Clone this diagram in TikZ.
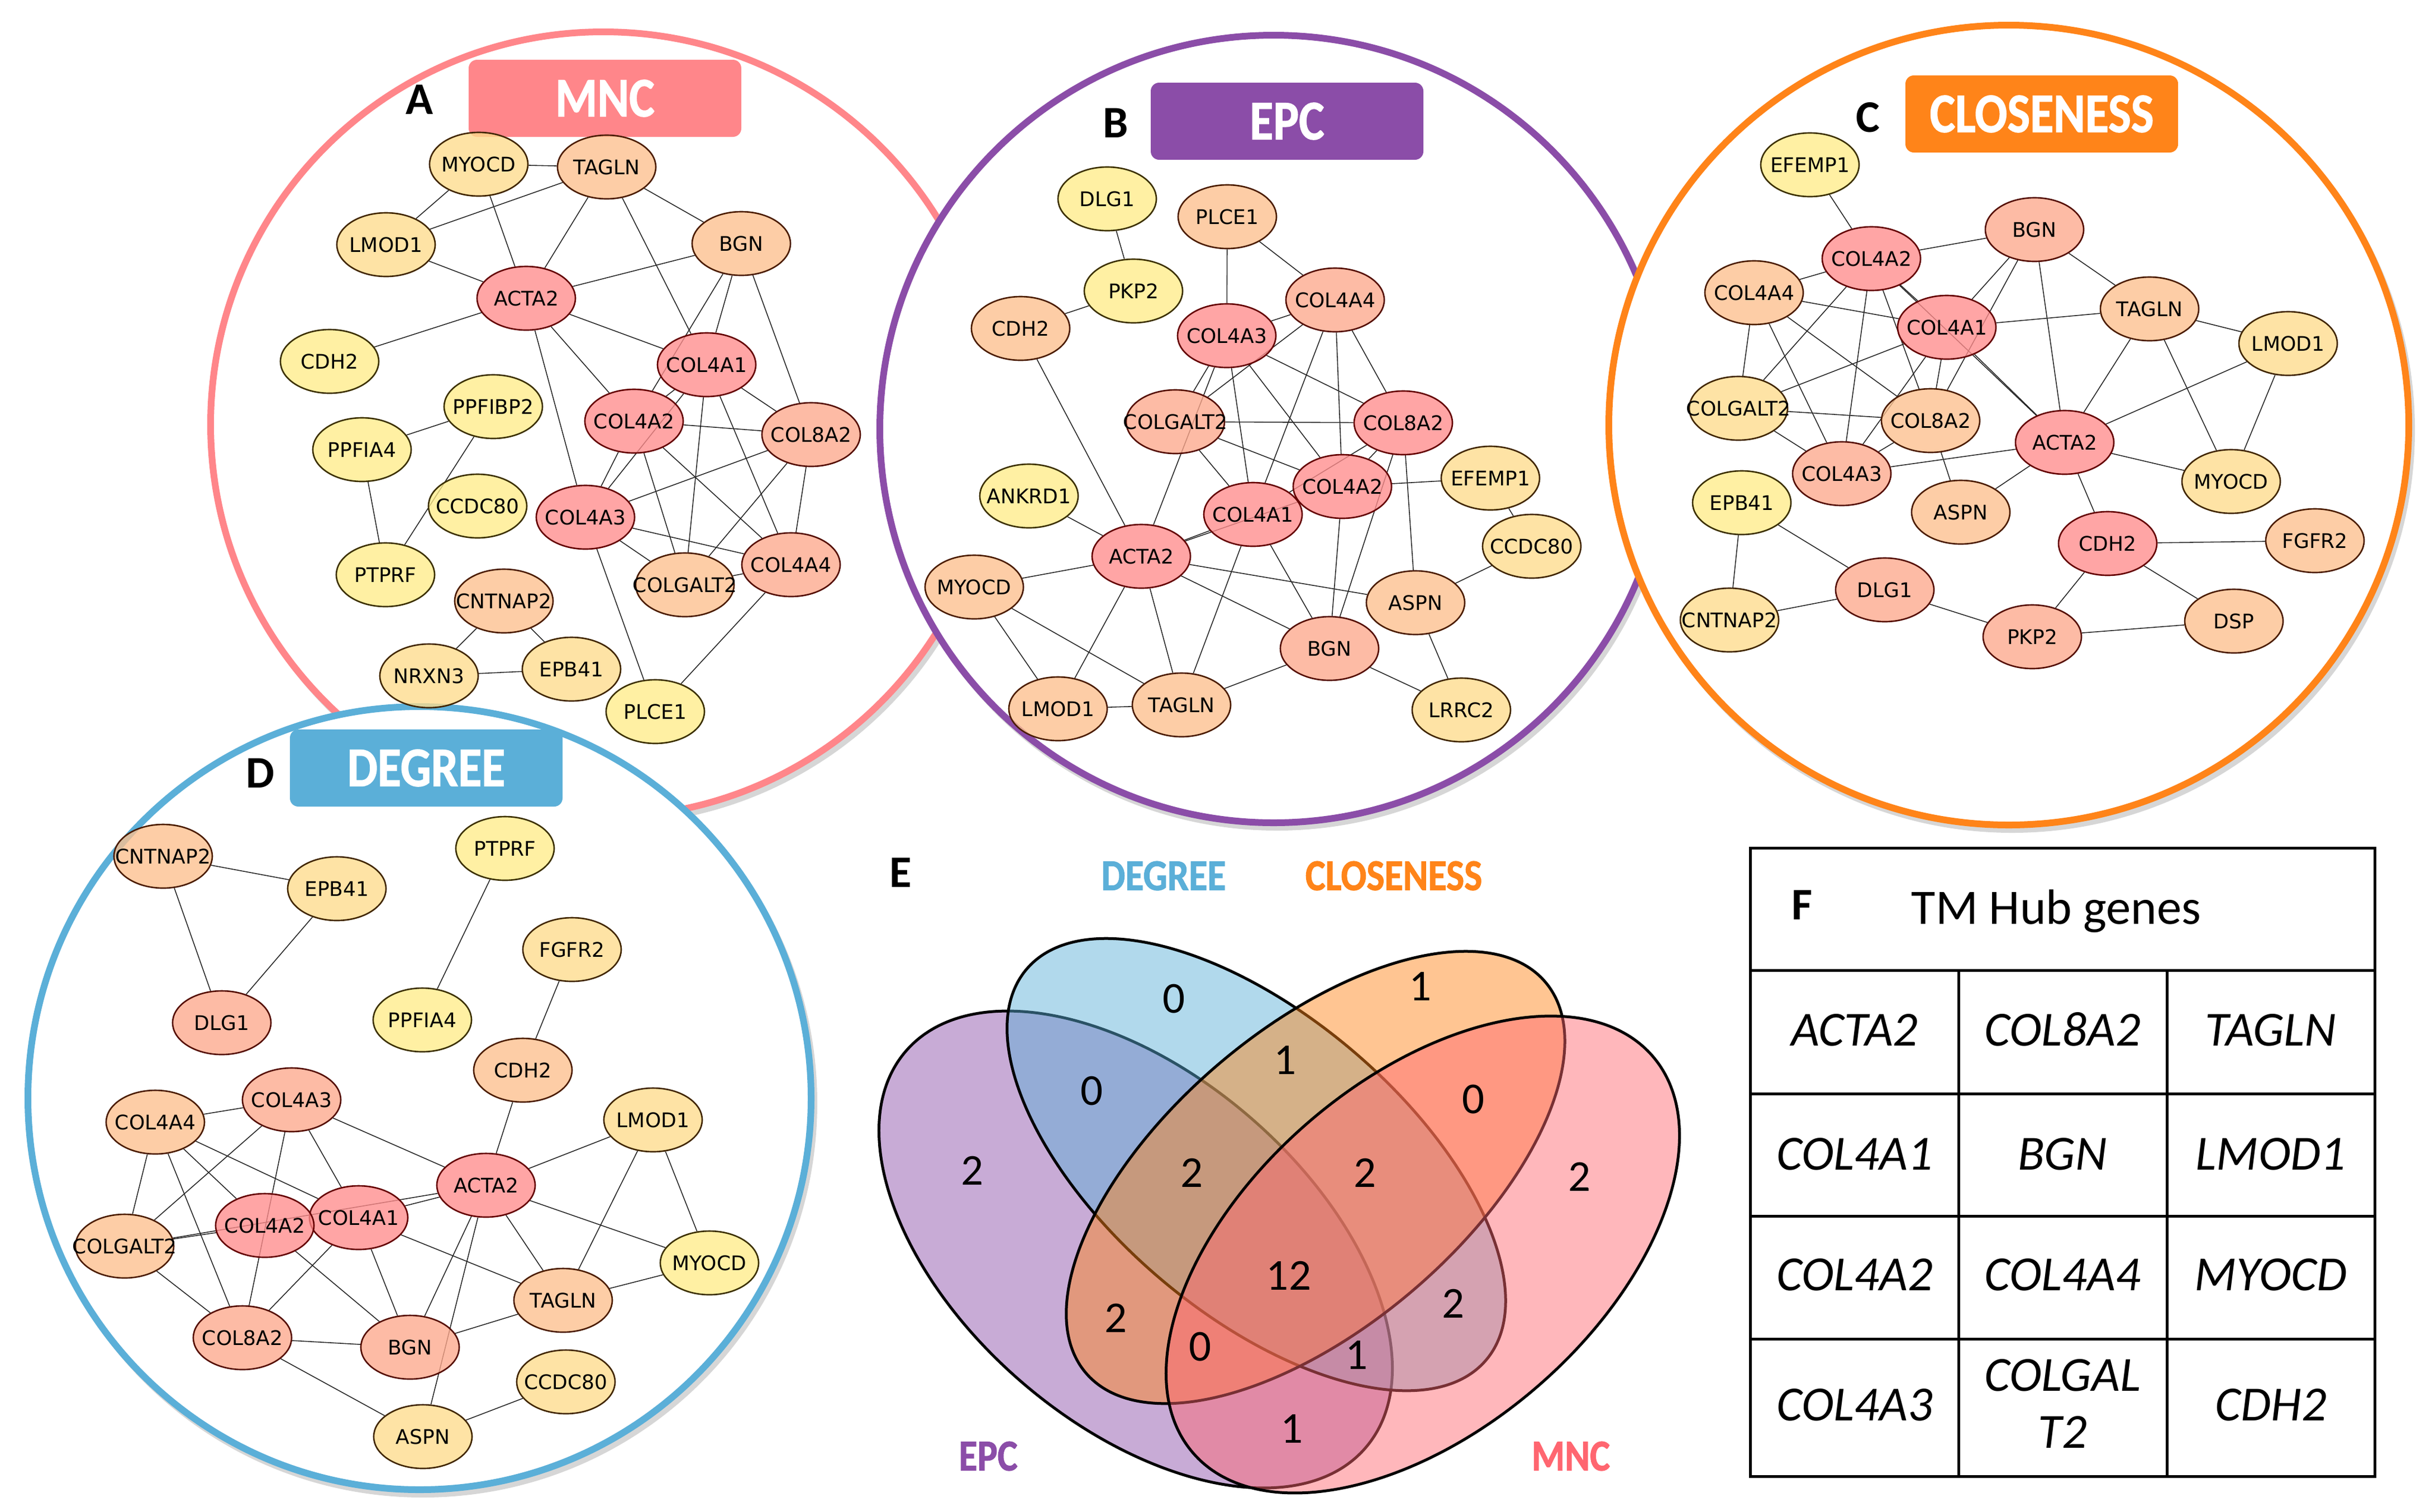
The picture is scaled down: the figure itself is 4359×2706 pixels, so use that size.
\documentclass[tikz,border=0pt]{standalone}
\usepackage{fontspec}
\setmainfont{Carlito}
\newfontfamily\genefont{DejaVu Sans}
\newfontfamily\hdrfont[FakeStretch=0.86,FakeBold=1.2]{Carlito}
\usetikzlibrary{shapes.geometric}
\pgfdeclarelayer{circles}
\pgfdeclarelayer{edges}
\pgfsetlayers{circles,edges,main}
\definecolor{cf1}{RGB}{255,236,138}\definecolor{cd1}{RGB}{60,48,0}
\definecolor{cf2}{RGB}{254,220,140}\definecolor{cd2}{RGB}{65,38,0}
\definecolor{cf3}{RGB}{253,192,142}\definecolor{cd3}{RGB}{75,28,0}
\definecolor{cf4}{RGB}{253,168,140}\definecolor{cd4}{RGB}{85,15,5}
\definecolor{cf5}{RGB}{255,140,140}\definecolor{cd5}{RGB}{100,0,0}
\definecolor{mncC}{RGB}{255,134,138}
\definecolor{mncT}{RGB}{255,102,112}
\definecolor{epcC}{RGB}{139,77,168}
\definecolor{closeC}{RGB}{255,132,25}
\definecolor{degC}{RGB}{91,175,216}
\begin{document}
\begin{tikzpicture}[x=0.2mm,y=-0.2mm,
  gene/.style={ellipse, minimum width=35.2mm, minimum height=22.8mm, inner sep=0pt, line width=1.5pt, fill opacity=0.78, text opacity=1, draw opacity=1, font=\genefont\fontsize{20.5}{22}\selectfont},
  g1/.style={gene, fill=cf1, draw=cd1},
  g2/.style={gene, fill=cf2, draw=cd2},
  g3/.style={gene, fill=cf3, draw=cd3},
  g4/.style={gene, fill=cf4, draw=cd4},
  g5/.style={gene, fill=cf5, draw=cd5},
  lnk/.style={line width=0.9pt, black!85},
  panelring/.style={line width=2.4mm, fill=white},
  shade/.style={fill=black, opacity=0.16},
  hdr/.style={rounded corners=3mm, minimum width=97.6mm, minimum height=27.6mm, text=white, font=\hdrfont\bfseries\fontsize{57}{58}\selectfont, inner sep=0pt},
  plab/.style={font=\bfseries\fontsize{46}{48}\selectfont},
  vlab/.style={font=\hdrfont\bfseries\fontsize{45}{46}\selectfont},
  vnum/.style={font=\fontsize{45}{46}\selectfont},
  vset/.style={line width=1mm, draw=black, fill opacity=0.47},
  tgene/.style={font=\itshape\fontsize{50}{58}\selectfont, anchor=base, align=center}
]
\useasboundingbox (0,0) rectangle (4359,2706);
\begin{pgfonlayer}{circles}
\fill[white] (0,0) rectangle (4359,2706);
\fill[shade] (1086,769) circle [radius=708];
\draw[panelring, draw=mncC] (1080,760) circle [radius=703];
\fill[shade] (2286,777) circle [radius=710];
\draw[panelring, draw=epcC] (2280,768) circle [radius=705];
\fill[shade] (3602,770) circle [radius=721];
\draw[panelring, draw=closeC] (3596,761) circle [radius=716];
\fill[shade] (757,1975) circle [radius=706];
\draw[panelring, draw=degC] (751,1966) circle [radius=701];
\end{pgfonlayer}

% ---------- headers ----------
\node[hdr, fill=mncC] (hA) at (1083,176) {MNC};
\node[hdr, fill=epcC] (hB) at (2304,217) {EPC};
\node[hdr, fill=closeC] (hC) at (3655,204) {CLOSENESS};
\node[hdr, fill=degC] (hD) at (763,1375) {DEGREE};
\node[plab] (lA) at (751,178) {A};
\node[plab] (lB) at (1997,220) {B};
\node[plab] (lC) at (3344,210) {C};
\node[plab] (lD) at (466,1384) {D};
\node[plab] (lE) at (1612,1562) {E};

% ---------- panel A ----------
\node[g2] (aMYOCD) at (857,294) {\makebox[0pt]{MYOCD}};
\node[g3] (aTAGLN) at (1086,299) {\makebox[0pt]{TAGLN}};
\node[g2] (aLMOD1) at (691,438) {\makebox[0pt]{LMOD1}};
\node[g3] (aBGN) at (1327,436) {\makebox[0pt]{BGN}};
\node[g5] (aACTA2) at (942,534) {\makebox[0pt]{ACTA2}};
\node[g1] (aCDH2) at (590,647) {\makebox[0pt]{CDH2}};
\node[g5] (aCOL4A1) at (1265,653) {\makebox[0pt]{COL4A1}};
\node[g1] (aPPFIBP2) at (883,728) {\makebox[0pt]{PPFIBP2}};
\node[g1] (aPPFIA4) at (648,805) {\makebox[0pt]{PPFIA4}};
\node[g5] (aCOL4A2) at (1135,754) {\makebox[0pt]{COL4A2}};
\node[g4] (aCOL8A2) at (1452,778) {\makebox[0pt]{COL8A2}};
\node[g1] (aCCDC80) at (855,906) {\makebox[0pt]{CCDC80}};
\node[g5] (aCOL4A3) at (1048,926) {\makebox[0pt]{COL4A3}};
\node[g1] (aPTPRF) at (690,1029) {\makebox[0pt]{PTPRF}};
\node[g3] (aCNTNAP2) at (902,1076) {\makebox[0pt]{CNTNAP2}};
\node[g3] (aCOLGALT2) at (1226,1047) {\makebox[0pt]{COLGALT2}};
\node[g4] (aCOL4A4) at (1416,1011) {\makebox[0pt]{COL4A4}};
\node[g2] (aNRXN3) at (768,1210) {\makebox[0pt]{NRXN3}};
\node[g2] (aEPB41) at (1023,1198) {\makebox[0pt]{EPB41}};
\node[g1] (aPLCE1) at (1173,1274) {\makebox[0pt]{PLCE1}};

% ---------- panel B ----------
\node[g1] (bDLG1) at (1982,356) {\makebox[0pt]{DLG1}};
\node[g3] (bPLCE1) at (2197,388) {\makebox[0pt]{PLCE1}};
\node[g1] (bPKP2) at (2029,521) {\makebox[0pt]{PKP2}};
\node[g3] (bCDH2) at (1827,588) {\makebox[0pt]{CDH2}};
\node[g4] (bCOL4A4) at (2390,537) {\makebox[0pt]{COL4A4}};
\node[g5] (bCOL4A3) at (2196,601) {\makebox[0pt]{COL4A3}};
\node[g4] (bCOLGALT2) at (2104,755) {\makebox[0pt]{COLGALT2}};
\node[g5] (bCOL8A2) at (2512,757) {\makebox[0pt]{COL8A2}};
\node[g2] (bEFEMP1) at (2668,856) {\makebox[0pt]{EFEMP1}};
\node[g5] (bCOL4A2) at (2403,871) {\makebox[0pt]{COL4A2}};
\node[g1] (bANKRD1) at (1842,888) {\makebox[0pt]{ANKRD1}};
\node[g5] (bCOL4A1) at (2243,921) {\makebox[0pt]{COL4A1}};
\node[g2] (bCCDC80) at (2742,978) {\makebox[0pt]{CCDC80}};
\node[g5] (bACTA2) at (2043,996) {\makebox[0pt]{ACTA2}};
\node[g3] (bMYOCD) at (1744,1051) {\makebox[0pt]{MYOCD}};
\node[g3] (bASPN) at (2534,1079) {\makebox[0pt]{ASPN}};
\node[g4] (bBGN) at (2380,1161) {\makebox[0pt]{BGN}};
\node[g3] (bLMOD1) at (1894,1269) {\makebox[0pt]{LMOD1}};
\node[g3] (bTAGLN) at (2115,1262) {\makebox[0pt]{TAGLN}};
\node[g2] (bLRRC2) at (2616,1271) {\makebox[0pt]{LRRC2}};

% ---------- panel C ----------
\node[g1] (cEFEMP1) at (3240,295) {\makebox[0pt]{EFEMP1}};
\node[g4] (cBGN) at (3642,411) {\makebox[0pt]{BGN}};
\node[g5] (cCOL4A2) at (3350,463) {\makebox[0pt]{COL4A2}};
\node[g3] (cCOL4A4) at (3140,524) {\makebox[0pt]{COL4A4}};
\node[g3] (cTAGLN) at (3848,553) {\makebox[0pt]{TAGLN}};
\node[g5] (cCOL4A1) at (3485,586) {\makebox[0pt]{COL4A1}};
\node[g2] (cLMOD1) at (4096,615) {\makebox[0pt]{LMOD1}};
\node[g2] (cCOLGALT2) at (3112,731) {\makebox[0pt]{COLGALT2}};
\node[g3] (cCOL8A2) at (3456,753) {\makebox[0pt]{COL8A2}};
\node[g5] (cACTA2) at (3696,792) {\makebox[0pt]{ACTA2}};
\node[g4] (cCOL4A3) at (3297,848) {\makebox[0pt]{COL4A3}};
\node[g2] (cMYOCD) at (3994,862) {\makebox[0pt]{MYOCD}};
\node[g1] (cEPB41) at (3118,900) {\makebox[0pt]{EPB41}};
\node[g3] (cASPN) at (3510,917) {\makebox[0pt]{ASPN}};
\node[g5] (cCDH2) at (3773,973) {\makebox[0pt]{CDH2}};
\node[g3] (cFGFR2) at (4144,968) {\makebox[0pt]{FGFR2}};
\node[g4] (cDLG1) at (3374,1056) {\makebox[0pt]{DLG1}};
\node[g2] (cCNTNAP2) at (3096,1110) {\makebox[0pt]{CNTNAP2}};
\node[g4] (cPKP2) at (3638,1140) {\makebox[0pt]{PKP2}};
\node[g3] (cDSP) at (3999,1112) {\makebox[0pt]{DSP}};

% ---------- panel D ----------
\node[g3] (dCNTNAP2) at (292,1533) {\makebox[0pt]{CNTNAP2}};
\node[g1] (dPTPRF) at (904,1519) {\makebox[0pt]{PTPRF}};
\node[g2] (dEPB41) at (603,1591) {\makebox[0pt]{EPB41}};
\node[g2] (dFGFR2) at (1024,1700) {\makebox[0pt]{FGFR2}};
\node[g4] (dDLG1) at (397,1831) {\makebox[0pt]{DLG1}};
\node[g1] (dPPFIA4) at (756,1826) {\makebox[0pt]{PPFIA4}};
\node[g3] (dCDH2) at (936,1916) {\makebox[0pt]{CDH2}};
\node[g4] (dCOL4A3) at (522,1969) {\makebox[0pt]{COL4A3}};
\node[g3] (dCOL4A4) at (278,2009) {\makebox[0pt]{COL4A4}};
\node[g2] (dLMOD1) at (1169,2005) {\makebox[0pt]{LMOD1}};
\node[g5] (dACTA2) at (870,2122) {\makebox[0pt]{ACTA2}};
\node[g5] (dCOL4A1) at (642,2180) {\makebox[0pt]{COL4A1}};
\node[g5] (dCOL4A2) at (474,2194) {\makebox[0pt]{COL4A2}};
\node[g3] (dCOLGALT2) at (223,2231) {\makebox[0pt]{COLGALT2}};
\node[g1] (dMYOCD) at (1270,2261) {\makebox[0pt]{MYOCD}};
\node[g3] (dTAGLN) at (1008,2328) {\makebox[0pt]{TAGLN}};
\node[g4] (dCOL8A2) at (434,2395) {\makebox[0pt]{COL8A2}};
\node[g4] (dBGN) at (734,2412) {\makebox[0pt]{BGN}};
\node[g2] (dCCDC80) at (1013,2474) {\makebox[0pt]{CCDC80}};
\node[g2] (dASPN) at (757,2572) {\makebox[0pt]{ASPN}};

% ---------- edges ----------
\begin{pgfonlayer}{edges}
\foreach \u/\v in {MYOCD/TAGLN, MYOCD/LMOD1, MYOCD/ACTA2, TAGLN/LMOD1, TAGLN/ACTA2, TAGLN/BGN, TAGLN/COL4A1, LMOD1/ACTA2, BGN/ACTA2, BGN/COL4A1, BGN/COL4A2, BGN/COL8A2, ACTA2/CDH2, ACTA2/COL4A1, ACTA2/COL4A2, ACTA2/COL4A3, COL4A1/COL4A2, COL4A1/COL4A3, COL4A1/COL8A2, COL4A1/COLGALT2, COL4A1/COL4A4, COL4A2/COL8A2, COL4A2/COL4A3, COL4A2/COLGALT2, COL4A2/COL4A4, COL8A2/COL4A3, COL8A2/COLGALT2, COL8A2/COL4A4, COL4A3/COLGALT2, COL4A3/COL4A4, COL4A3/PLCE1, COL4A4/PLCE1, COLGALT2/COL4A4, PPFIBP2/PPFIA4, PPFIBP2/PTPRF, PPFIA4/PTPRF, CNTNAP2/NRXN3, CNTNAP2/EPB41, NRXN3/EPB41}
  \draw[lnk] (a\u) -- (a\v);
\foreach \u/\v in {DLG1/PKP2, PKP2/CDH2, PLCE1/COL4A3, PLCE1/COL4A4, COL4A3/COL4A4, CDH2/ACTA2, COL4A4/COLGALT2, COL4A3/COLGALT2, COL4A3/ACTA2, COL4A3/COL4A1, COL4A3/COL4A2, COL4A3/COL8A2, COL4A4/COL4A1, COL4A4/COL4A2, COL4A4/COL8A2, COLGALT2/COL8A2, COLGALT2/COL4A2, COLGALT2/COL4A1, COL8A2/COL4A2, COL8A2/COL4A1, COL8A2/ASPN, COL8A2/BGN, COL4A2/EFEMP1, COL4A2/BGN, COL4A2/ACTA2, COL4A1/COL4A2, EFEMP1/CCDC80, CCDC80/ASPN, ASPN/LRRC2, ASPN/ACTA2, ACTA2/COL4A1, ACTA2/ANKRD1, ACTA2/MYOCD, ACTA2/BGN, ACTA2/LMOD1, ACTA2/TAGLN, COL4A1/TAGLN, COL4A1/BGN, BGN/TAGLN, BGN/LRRC2, MYOCD/LMOD1, MYOCD/TAGLN, LMOD1/TAGLN}
  \draw[lnk] (b\u) -- (b\v);
\foreach \u/\v in {EFEMP1/COL4A2, COL4A2/BGN, COL4A2/COL4A4, COL4A2/COL4A1, COL4A2/ACTA2, COL4A2/COLGALT2, COL4A2/COL4A3, COL4A2/COL8A2, COL4A4/COL4A1, COL4A4/COLGALT2, COL4A4/COL4A3, COL4A4/COL8A2, BGN/COL4A1, BGN/COL8A2, BGN/ACTA2, BGN/TAGLN, COL4A1/TAGLN, COL4A1/COLGALT2, COL4A1/COL8A2, COL4A1/COL4A3, COL4A1/ACTA2, COLGALT2/COL8A2, COLGALT2/COL4A3, COL8A2/COL4A3, COL8A2/ASPN, COL4A3/ACTA2, ACTA2/ASPN, ACTA2/CDH2, ACTA2/TAGLN, ACTA2/LMOD1, ACTA2/MYOCD, TAGLN/LMOD1, TAGLN/MYOCD, LMOD1/MYOCD, CDH2/FGFR2, CDH2/PKP2, CDH2/DSP, PKP2/DSP, PKP2/DLG1, DLG1/EPB41, DLG1/CNTNAP2, EPB41/CNTNAP2}
  \draw[lnk] (c\u) -- (c\v);
\foreach \u/\v in {CNTNAP2/EPB41, CNTNAP2/DLG1, EPB41/DLG1, PTPRF/PPFIA4, FGFR2/CDH2, CDH2/ACTA2, COL4A3/COL4A4, COL4A3/ACTA2, COL4A3/COL4A1, COL4A3/COL8A2, COL4A3/COLGALT2, COL4A4/COL4A1, COL4A4/COL4A2, COL4A4/COLGALT2, COL4A4/COL8A2, COLGALT2/COL4A2, COLGALT2/ACTA2, COL4A1/ACTA2, COLGALT2/COL8A2, COL4A2/BGN, COL4A1/COL8A2, COL4A1/BGN, COL4A1/TAGLN, ACTA2/LMOD1, ACTA2/MYOCD, ACTA2/TAGLN, ACTA2/BGN, ACTA2/ASPN, LMOD1/TAGLN, LMOD1/MYOCD, MYOCD/TAGLN, TAGLN/BGN, COL8A2/BGN, COL8A2/ASPN, ASPN/CCDC80}
  \draw[lnk] (d\u) -- (d\v);
\end{pgfonlayer}

% ---------- panel E: Venn ----------
\draw[vset, fill=epcC, rotate around={-40.8:(2033,2237)}] (2033,2237) ellipse [x radius=543.5, y radius=313];
\draw[vset, fill=degC, rotate around={-40.4:(2249,2085)}] (2249,2085) ellipse [x radius=540, y radius=267];
\draw[vset, fill=closeC, rotate around={40.4:(2355,2108)}] (2355,2108) ellipse [x radius=540, y radius=267];
\draw[vset, fill=mncT, rotate around={40.8:(2547,2246)}] (2547,2246) ellipse [x radius=543.5, y radius=313];
\node[vlab, text=degC] (vDEG) at (2083,1568) {DEGREE};
\node[vlab, text=closeC] (vCLO) at (2495,1568) {CLOSENESS};
\node[vlab, text=epcC] (vEPC) at (1769,2607) {EPC};
\node[vlab, text=mncT] (vMNC) at (2812,2607) {MNC};
\node[vnum] (n1) at (2102,1788) {0};
\node[vnum] (n2) at (2543,1766) {1};
\node[vnum] (n3) at (1955,1953) {0};
\node[vnum] (n4) at (2301,1898) {1};
\node[vnum] (n5) at (2638,1968) {0};
\node[vnum] (n6) at (1741,2096) {2};
\node[vnum] (n7) at (2134,2100) {2};
\node[vnum] (n8) at (2444,2100) {2};
\node[vnum] (n9) at (2827,2107) {2};
\node[vnum] (n10) at (2307,2284) {12};
\node[vnum] (n11) at (1998,2360) {2};
\node[vnum] (n12) at (2602,2334) {2};
\node[vnum] (n13) at (2149,2411) {0};
\node[vnum] (n14) at (2429,2426) {1};
\node[vnum] (n15) at (2313,2558) {1};

% ---------- panel F: table ----------
\draw[line width=1mm] (3133,1518) rectangle (4251,2643);
\draw[line width=1mm] (3133,1737) -- (4251,1737);
\draw[line width=1mm] (3133,1958) -- (4251,1958);
\draw[line width=1mm] (3133,2177) -- (4251,2177);
\draw[line width=1mm] (3133,2397) -- (4251,2397);
\draw[line width=1mm] (3506,1737) -- (3506,2643);
\draw[line width=1mm] (3879,1737) -- (3879,2643);
\node[plab, anchor=base west] (lF) at (3201,1646) {F};
\node[font=\fontsize{50.5}{52}\selectfont, anchor=base] (tTitle) at (3681,1654) {TM Hub genes};
\node[tgene] (t11) at (3320,1872) {ACTA2};
\node[tgene] (t12) at (3692,1872) {COL8A2};
\node[tgene] (t13) at (4065,1872) {TAGLN};
\node[tgene] (t21) at (3320,2094) {COL4A1};
\node[tgene] (t22) at (3692,2094) {BGN};
\node[tgene] (t23) at (4065,2094) {LMOD1};
\node[tgene] (t31) at (3320,2310) {COL4A2};
\node[tgene] (t32) at (3692,2310) {COL4A4};
\node[tgene] (t33) at (4065,2310) {MYOCD};
\node[tgene] (t41) at (3320,2543) {COL4A3};
\node[tgene] (t42a) at (3692,2490) {COLGAL};
\node[tgene] (t42b) at (3692,2592) {T2};
\node[tgene] (t43) at (4065,2543) {CDH2};
\end{tikzpicture}
\end{document}
